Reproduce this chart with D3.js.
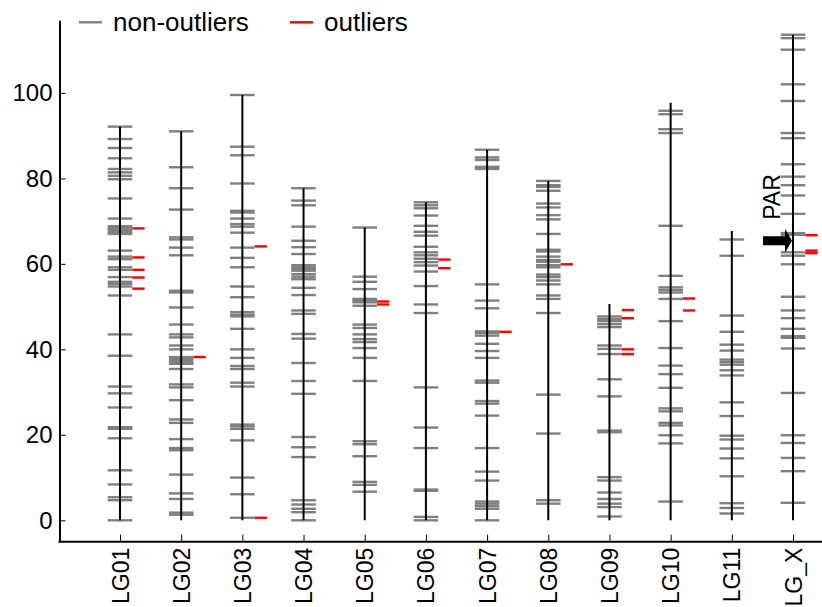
<!DOCTYPE html>
<html>
<head>
<meta charset="utf-8">
<script src="https://cdn.jsdelivr.net/npm/d3@7"></script>
<style>
  body { margin: 0; background: #fff; }
  svg { display: block; }
  text { font-family: "Liberation Sans", Arial, Helvetica, sans-serif; fill: #000; }
</style>
</head>
<body>
<svg id="chart" width="822" height="607"></svg>
<script>
// Linkage groups and their lengths (cM)
const groups = ["LG01", "LG02", "LG03", "LG04", "LG05", "LG06", "LG07", "LG08", "LG09", "LG10", "LG11", "LG_X"];
const lengths = [92.1, 91.0, 99.5, 77.7, 68.5, 74.4, 86.7, 79.4, 50.6, 97.7, 67.7, 113.6];

// Marker positions (cM) per linkage group
const LG01 = [92.1, 89.2, 87.1, 84.7, 82.2, 81.4, 80.6, 79.8, 75.3, 70.6, 68.8, 68.5, 68.2, 67.9, 67.4, 67.0, 63.1, 61.7, 61.1, 59.2, 58.6, 56.9, 55.8, 55.3, 54.7, 52.6, 43.5, 38.5, 31.3, 29.7, 26.4, 21.8, 21.4, 19.2, 11.7, 8.4, 5.4, 4.7, 0];
const LG02 = [91.0, 82.6, 77.7, 72.7, 66.2, 65.7, 63.8, 62.0, 53.7, 53.3, 49.8, 45.8, 43.5, 42.8, 40.9, 40.0, 38.2, 37.8, 37.4, 37.0, 36.6, 35.4, 31.8, 31.1, 28.1, 23.6, 22.8, 19.0, 16.9, 16.4, 10.7, 6.3, 5.0, 1.8, 1.3];
const LG03 = [99.5, 87.4, 85.4, 78.8, 72.4, 72.0, 70.6, 69.3, 68.7, 67.3, 63.8, 61.4, 59.2, 54.7, 52.2, 48.7, 48.1, 47.7, 44.8, 40.0, 38.0, 36.1, 35.4, 32.2, 31.3, 22.4, 22.0, 21.4, 18.7, 10.0, 6.1, 0.6];
const LG04 = [77.7, 74.8, 73.7, 68.7, 65.4, 63.9, 62.3, 59.7, 59.2, 58.8, 58.4, 57.6, 57.0, 56.4, 54.4, 52.7, 49.1, 48.3, 43.6, 42.5, 36.8, 32.6, 29.6, 19.5, 17.1, 14.8, 4.7, 3.7, 2.7, 1.9, 0];
const LG05 = [68.5, 57.0, 55.8, 54.1, 51.8, 51.4, 51.0, 50.2, 45.8, 45.0, 43.5, 42.4, 41.7, 40.3, 38.0, 32.6, 18.5, 17.8, 15.0, 9.0, 8.3, 6.7];
const LG06 = [74.4, 73.7, 73.0, 71.3, 68.9, 67.5, 66.6, 64.0, 62.7, 62.0, 61.2, 60.4, 59.6, 58.2, 54.8, 50.5, 48.5, 31.1, 21.7, 16.9, 7.2, 6.9, 0.8, 0.0];
const LG07 = [86.7, 84.9, 84.3, 82.7, 82.2, 55.2, 51.4, 49.6, 44.2, 43.8, 43.2, 41.3, 39.6, 38.0, 32.7, 32.2, 27.9, 27.3, 24.5, 16.9, 11.4, 9.3, 4.4, 3.9, 3.3, 2.7, 0];
const LG08 = [79.4, 78.4, 78.0, 77.1, 74.1, 73.2, 71.4, 70.4, 67.0, 63.3, 62.9, 61.7, 60.9, 60.5, 59.7, 59.2, 57.5, 56.9, 56.1, 55.2, 52.6, 51.8, 48.5, 29.4, 20.3, 4.7, 3.9];
const LG09 = [47.7, 47.1, 46.6, 45.9, 45.2, 40.9, 40.1, 38.9, 33.0, 29.0, 21.0, 20.6, 10.1, 9.3, 6.5, 5.0, 3.9, 3.1, 0.9];
const LG10 = [95.8, 95.0, 91.5, 90.6, 68.9, 57.2, 54.5, 53.9, 53.3, 51.8, 46.6, 40.3, 36.2, 34.2, 31.0, 26.2, 25.5, 22.8, 22.2, 19.9, 18.0, 4.4];
const LG11 = [65.7, 61.9, 47.9, 44.1, 41.1, 39.7, 37.6, 37.0, 36.4, 35.1, 33.9, 27.6, 24.4, 19.8, 18.9, 16.8, 14.5, 10.3, 4.0, 2.9, 1.6];
const LG_X = [113.6, 112.8, 110.1, 102.0, 98.1, 90.6, 89.4, 83.3, 80.4, 78.4, 76.0, 71.7, 67.2, 66.8, 62.7, 61.9, 59.9, 52.3, 49.1, 47.3, 44.8, 43.1, 42.7, 40.2, 29.8, 19.9, 18.1, 14.6, 11.5, 4.1];

// Outlier marker positions (cM) per linkage group
const LG01_out = [68.3, 61.5, 58.6, 56.8, 54.2];
const LG02_out = [38.2];
const LG03_out = [64.1, 0.6];
const LG04_out = [];
const LG05_out = [51.2, 50.5];
const LG06_out = [61.0, 59.0];
const LG07_out = [44.1];
const LG08_out = [59.9];
const LG09_out = [49.2, 47.3, 40.0, 38.9];
const LG10_out = [51.9, 49.1];
const LG11_out = [];
const LG_X_out = [66.7, 63.1, 62.5];

const yTicks = [0, 20, 40, 60, 80, 100];
const parGroup = "LG_X";
const parPosition = 65.4;

const nonOutliers = [LG01, LG02, LG03, LG04, LG05, LG06, LG07, LG08, LG09, LG10, LG11, LG_X];
const outliers = [LG01_out, LG02_out, LG03_out, LG04_out, LG05_out, LG06_out, LG07_out, LG08_out, LG09_out, LG10_out, LG11_out, LG_X_out];

const table = groups.map((g, i) => ({
  group: g,
  length: lengths[i],
  markers: nonOutliers[i],
  outliers: outliers[i]
}));

const W = 822, H = 607;
const svg = d3.select("#chart");

const x = d3.scalePoint().domain(groups).range([120, 793]).padding(0);
const y = d3.scaleLinear().domain([-5, 117]).range([541.7, 20.2]);

const grey = "#808080";
const red = "#ff0000";
const tickHalf = 12.3;
const markW = 2.4;

// marker ticks
const g = svg.append("g").attr("class", "groups")
  .selectAll("g").data(table).join("g")
  .attr("transform", d => `translate(${x(d.group)},0)`);

g.selectAll("line.marker").data(d => d.markers).join("line")
  .attr("class", "marker")
  .attr("x1", -tickHalf).attr("x2", tickHalf)
  .attr("y1", d => y(d)).attr("y2", d => y(d))
  .attr("stroke", grey).attr("stroke-width", markW);

g.selectAll("line.outlier").data(d => d.outliers).join("line")
  .attr("class", "outlier")
  .attr("x1", tickHalf).attr("x2", tickHalf * 2)
  .attr("y1", d => y(d)).attr("y2", d => y(d))
  .attr("stroke", red).attr("stroke-width", markW);

// chromosome backbone
g.append("line")
  .attr("x1", 0).attr("x2", 0)
  .attr("y1", y(0)).attr("y2", d => y(d.length))
  .attr("stroke", "#000").attr("stroke-width", 2);

// y axis
const yAxis = svg.append("g")
  .attr("transform", "translate(59.5,0)")
  .call(d3.axisLeft(y).tickValues(yTicks).tickSizeInner(-6).tickSizeOuter(0).tickPadding(7));
yAxis.select(".domain").attr("stroke", "#000").attr("stroke-width", 2);
yAxis.selectAll(".tick line").attr("stroke", "#000").attr("stroke-width", 1);
yAxis.selectAll(".tick text")
  .style("font-size", "24px")
  .style("font-family", '"Liberation Sans", Arial, sans-serif')
  .attr("fill", "#000");

// x axis
const xAxis = svg.append("g")
  .attr("transform", `translate(0,${y(-5)})`)
  .call(d3.axisBottom(x).tickSizeInner(-7).tickSizeOuter(0));
xAxis.select(".domain").remove();
xAxis.selectAll(".tick line").attr("stroke", "#000").attr("stroke-width", 1);
xAxis.selectAll(".tick text")
  .attr("transform", "rotate(-90)")
  .attr("x", -6).attr("y", 0).attr("dy", "0.35em")
  .style("text-anchor", "end")
  .style("font-size", "23px")
  .style("font-family", '"Liberation Sans", Arial, sans-serif')
  .attr("fill", "#000");
svg.append("line")
  .attr("x1", 58.5).attr("x2", W)
  .attr("y1", y(-5)).attr("y2", y(-5))
  .attr("stroke", "#000").attr("stroke-width", 2);

// PAR annotation
const px = x(parGroup), py = y(parPosition);
svg.append("path")
  .attr("d", `M${px - 30},${py - 4.5} L${px - 8},${py - 4.5} L${px - 8},${py - 12} L${px - 1},${py} L${px - 8},${py + 12} L${px - 8},${py + 4.5} L${px - 30},${py + 4.5} Z`)
  .attr("fill", "#000");
svg.append("text")
  .attr("transform", `translate(${px - 13},${py - 21}) rotate(-90)`)
  .style("font-size", "23px")
  .text("PAR");

// legend
const legend = svg.append("g").attr("class", "legend");
const items = [
  { label: "non-outliers", color: grey, x: 79 },
  { label: "outliers", color: red, x: 290 }
];
const li = legend.selectAll("g").data(items).join("g")
  .attr("transform", d => `translate(${d.x},22.3)`);
li.append("line").attr("x1", 0).attr("x2", 23).attr("y1", 0).attr("y2", 0)
  .attr("stroke", d => d.color).attr("stroke-width", markW);
li.append("text").attr("x", 34).attr("y", 9).style("font-size", "26px").text(d => d.label);
</script>
</body>
</html>
